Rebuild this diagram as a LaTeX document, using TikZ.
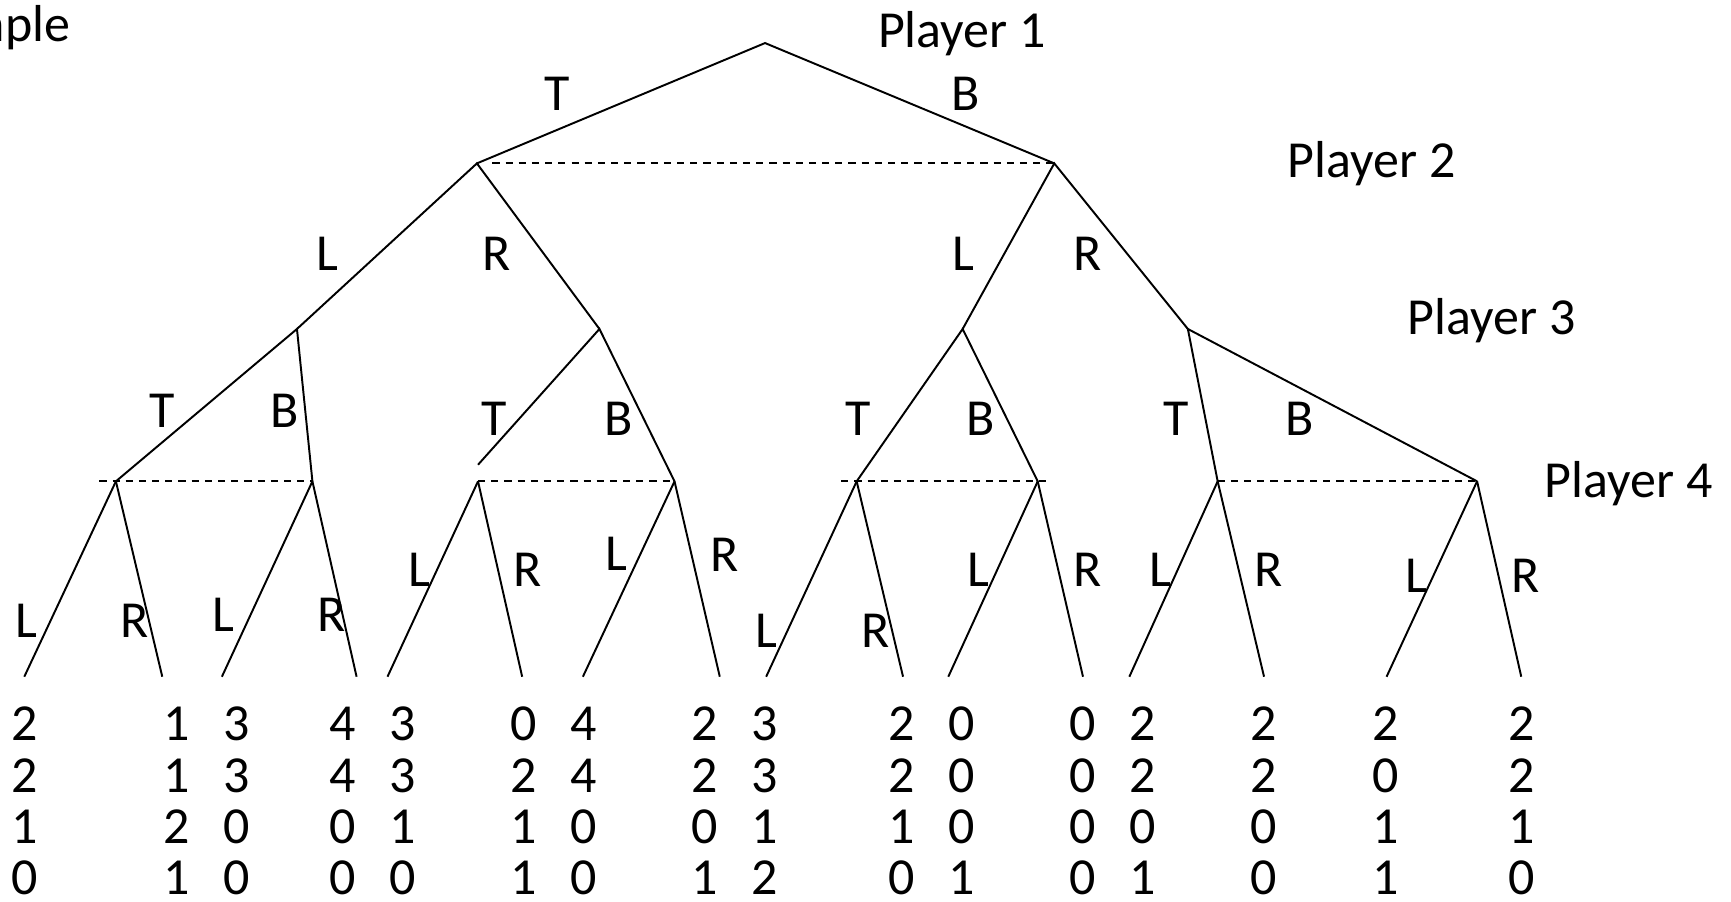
\documentclass[tikz,border=0pt]{standalone}
\usepackage{fontspec}
\setmainfont{Carlito}
\begin{document}
\begin{tikzpicture}[x=0.02cm,y=-0.02cm,
  edge/.style={line width=1pt},
  info/.style={line width=1pt, dash pattern=on 3.7pt off 3.1pt},
  lbl/.style={inner sep=0pt, font=\fontsize{26.8}{27}\selectfont},
  pl/.style={inner sep=0pt, anchor=base west, font=\fontsize{26.8}{27}\selectfont},
  pay/.style={inner sep=0pt, anchor=base, font=\fontsize{26.8}{27}\selectfont}]
\path[use as bounding box] (0,0) rectangle (1568,817);
% title fragment
\node[inner sep=0pt, anchor=base east, font=\fontsize{26.8}{27}\selectfont] (title) at (64,38) {Example};
% player labels
\node[pl] (P1) at (795,43) {Player 1};
\node[pl] (P2) at (1166,161) {Player 2};
\node[pl] (P3) at (1275,303) {Player 3};
\node[pl] (P4) at (1399,451) {Player 4};
% decision nodes
\coordinate (r) at (693,39);
\coordinate (a) at (432,148);
\coordinate (b) at (955,148);
\coordinate (aL) at (269,298);
\coordinate (aR) at (543,298);
\coordinate (bL) at (872,298);
\coordinate (bR) at (1076,298);
\coordinate (n1) at (105,436);
\coordinate (n2) at (283,436);
\coordinate (n3) at (433,436);
\coordinate (n3e) at (433,421);
\coordinate (n4) at (611,436);
\coordinate (n5) at (776,436);
\coordinate (n6) at (940,436);
\coordinate (n7) at (1103,436);
\coordinate (n8) at (1338,436);
% tree edges
\draw[edge] (a) -- (r) -- (b);
\draw[edge] (aL) -- (a) -- (aR);
\draw[edge] (bL) -- (b) -- (bR);
\draw[edge] (n1) -- (aL) -- (n2);
\draw[edge] (n3e) -- (aR) -- (n4);
\draw[edge] (n5) -- (bL) -- (n6);
\draw[edge] (n7) -- (bR) -- (n8);
% information sets
\coordinate (i1s) at (446,148);
\coordinate (i2s) at (90,436);
\coordinate (i4s) at (762,436);
\coordinate (i4e) at (953,436);
\draw[info] (i1s) -- (b);
\draw[info] (i2s) -- (n2);
\draw[info] (n3) -- (n4);
\draw[info] (i4s) -- (i4e);
\draw[info] (n7) -- (n8);
% leaves and payoffs
\foreach \lx/\px/\pa/\pb/\pc/\pd [count=\i] in {
  22/22/2/2/1/0, 147/160/1/1/2/1, 201/214/3/3/0/0, 323/310/4/4/0/0,
  351/365/3/3/1/0, 473/474/0/2/1/1, 528/529/4/4/0/0, 652/638/2/2/0/1,
  694/693/3/3/1/2, 818/817/2/2/1/0, 859/871/0/0/0/1, 981/981/0/0/0/0,
  1023/1035/2/2/0/1, 1145/1145/2/2/0/0, 1256/1255/2/0/1/1, 1378/1378/2/2/1/0}{
  \coordinate (l\i) at (\lx,613);
  \pgfmathtruncatemacro{\pn}{int((\i+1)/2)}
  \draw[edge] (n\pn) -- (l\i);
  \node[pay] (pa\i) at (\px,671) {\pa};
  \node[pay] (pb\i) at (\px,717.5) {\pb};
  \node[pay] (pc\i) at (\px,764) {\pc};
  \node[pay] (pd\i) at (\px,810.5) {\pd};
}
% action labels
\node[lbl] (e1) at (505,85) {T};
\node[lbl] (e2) at (875,85) {B};
\node[lbl] (e3) at (297,230) {L};
\node[lbl] (e4) at (450,230) {R};
\node[lbl] (e5) at (873,230) {L};
\node[lbl] (e6) at (985,230) {R};
\node[lbl] (e7) at (147,372) {T};
\node[lbl] (e8) at (258,372) {B};
\node[lbl] (e9) at (448,379) {T};
\node[lbl] (e10) at (560,379) {B};
\node[lbl] (e11) at (777,379) {T};
\node[lbl] (e12) at (888,379) {B};
\node[lbl] (e13) at (1065,379) {T};
\node[lbl] (e14) at (1177,379) {B};
\node[lbl] (f1) at (24,562) {L};
\node[lbl] (f2) at (122,562) {R};
\node[lbl] (f3) at (202,557) {L};
\node[lbl] (f4) at (300,557) {R};
\node[lbl] (f5) at (380,516) {L};
\node[lbl] (f6) at (478,516) {R};
\node[lbl] (f7) at (558,502) {L};
\node[lbl] (f8) at (656,503) {R};
\node[lbl] (f9) at (694,571) {L};
\node[lbl] (f10) at (793,571) {R};
\node[lbl] (f11) at (886,516) {L};
\node[lbl] (f12) at (985,516) {R};
\node[lbl] (f13) at (1051,516) {L};
\node[lbl] (f14) at (1149,516) {R};
\node[lbl] (f15) at (1283,522) {L};
\node[lbl] (f16) at (1382,522) {R};
\end{tikzpicture}
\end{document}
